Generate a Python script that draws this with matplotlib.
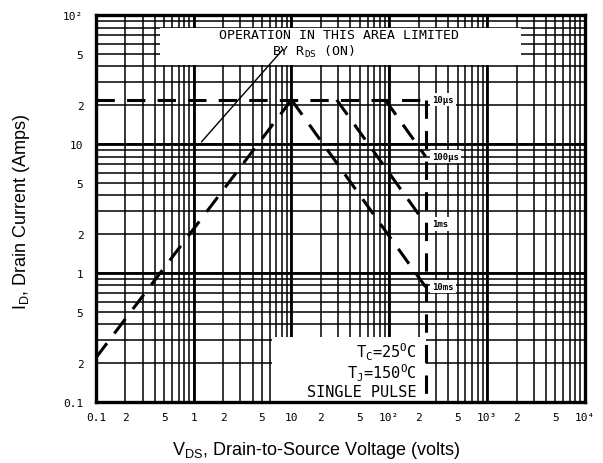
import matplotlib
matplotlib.use("Agg")
import matplotlib.pyplot as plt
from matplotlib.ticker import FixedLocator, LogLocator, NullFormatter

plt.rcParams["mathtext.fontset"] = "custom"
plt.rcParams["mathtext.rm"] = "Liberation Sans"
plt.rcParams["mathtext.tt"] = "DejaVu Sans Mono"

# Safe operating area
v_rds = [0.1, 10]          # R_DS(on) limit line (volts)
i_rds = [0.22, 22]         # (amps)
i_max = 22                 # peak pulsed drain current
v_max = 235                # max drain-source voltage
pulse_names = ["10\u00b5s", "100\u00b5s", "1ms", "10ms"]
pulse_v_start = [0.1, 91, 29, 10]   # where each pulse line leaves i_max
pulse_i_end = [22, 8.0, 2.4, 0.78]  # current at v_max

x_ticks = [0.1, 0.2, 0.5, 1, 2, 5, 10, 20, 50, 100, 200, 500, 1000, 2000, 5000, 10000]
x_ticklabels = ["0.1", "2", "5", "1", "2", "5", "10", "2", "5", "10\u00b2", "2", "5",
                "10\u00b3", "2", "5", "10\u2074"]
y_ticks = [0.1, 0.2, 0.5, 1, 2, 5, 10, 20, 50, 100]
y_ticklabels = ["0.1", "2", "5", "1", "2", "5", "10", "2", "5", "10\u00b2"]

mono = ["DejaVu Sans Mono", "DejaVu Sans"]
dash = (0, (6, 4))

fig = plt.figure(figsize=(6.03, 4.64), dpi=100)
ax = fig.add_axes([0.159, 0.1315, 0.811, 0.834])
ax.set_xscale("log")
ax.set_yscale("log")
ax.set_xlim(0.1, 1e4)
ax.set_ylim(0.1, 100)

# ticks / grid
ax.xaxis.set_major_locator(FixedLocator(x_ticks))
ax.yaxis.set_major_locator(FixedLocator(y_ticks))
ax.xaxis.set_minor_locator(LogLocator(base=10, subs=[3, 4, 6, 7, 8, 9], numticks=20))
ax.yaxis.set_minor_locator(LogLocator(base=10, subs=[3, 4, 6, 7, 8, 9], numticks=20))
ax.xaxis.set_minor_formatter(NullFormatter())
ax.yaxis.set_minor_formatter(NullFormatter())
ax.set_xticklabels(x_ticklabels, fontfamily=mono, fontsize=8)
ax.set_yticklabels(y_ticklabels, fontfamily=mono, fontsize=8)
ax.tick_params(which="both", length=0)
ax.tick_params(axis="x", pad=7)
ax.tick_params(axis="y", pad=9)
ax.grid(which="both", color="black", lw=1.1)
for d in [1, 10, 100, 1000]:
    ax.axvline(d, color="black", lw=2.0, zorder=1)
for d in [1, 10]:
    ax.axhline(d, color="black", lw=2.0, zorder=1)
ax.set_axisbelow(True)
for s in ax.spines.values():
    s.set_linewidth(2.4)

# white label areas
ax.fill([0.45, 2200, 2200, 0.45], [41, 41, 79, 79], color="white", zorder=2, lw=0)
ax.fill([6.3, v_max, v_max, 6.3], [0.1, 0.1, 0.32, 0.32], color="white", zorder=2, lw=0)

# SOA boundaries
ax.plot(v_rds, i_rds, color="black", lw=2.2, linestyle=dash, zorder=3)
ax.plot([v_max, v_max], [i_max, 0.1], color="black", lw=2.2, linestyle=dash, zorder=3)
for name, v0, i1 in zip(pulse_names, pulse_v_start, pulse_i_end):
    ax.plot([v0, v_max], [i_max, i1], color="black", lw=2.2, linestyle=dash, zorder=3)
    ax.annotate(name, xy=(v_max, i1), xytext=(5, 0), textcoords="offset points",
                fontsize=6.5, fontweight="bold", fontfamily=mono, va="center", ha="left",
                bbox=dict(facecolor="white", edgecolor="none", pad=1.5), zorder=4)

# annotations
ax.text(30.5, 70, "OPERATION IN THIS AREA LIMITED", fontfamily=mono, fontsize=9.5,
        ha="center", va="center", zorder=4)
ax.text(16.6, 53, "BY R$_{\\mathtt{DS}}$ (ON)", fontfamily=mono, fontsize=9.5,
        ha="center", va="center", zorder=4)
ax.annotate("", xy=(1.15, 10), xytext=(8.5, 56),
            arrowprops=dict(arrowstyle="-", color="black", lw=1), zorder=4)
ax.text(190, 0.245, "T$_{\\mathtt{C}}$=25$^{\\mathtt{O}}$C", fontfamily=mono, fontsize=11,
        ha="right", va="center", zorder=4)
ax.text(190, 0.171, "T$_{\\mathtt{J}}$=150$^{\\mathtt{O}}$C", fontfamily=mono, fontsize=11,
        ha="right", va="center", zorder=4)
ax.text(190, 0.12, "SINGLE PULSE", fontfamily=mono, fontsize=11,
        ha="right", va="center", zorder=4)

ax.set_xlabel("V$_{\\rm DS}$, Drain-to-Source Voltage (volts)", fontfamily="Liberation Sans",
              fontsize=13)
ax.set_ylabel("I$_{\\rm D}$, Drain Current (Amps)", fontfamily="Liberation Sans", fontsize=13)
ax.xaxis.set_label_coords(0.45, -0.095)
ax.yaxis.set_label_coords(-0.13, 0.494)

fig.savefig("out.png", dpi=100)
